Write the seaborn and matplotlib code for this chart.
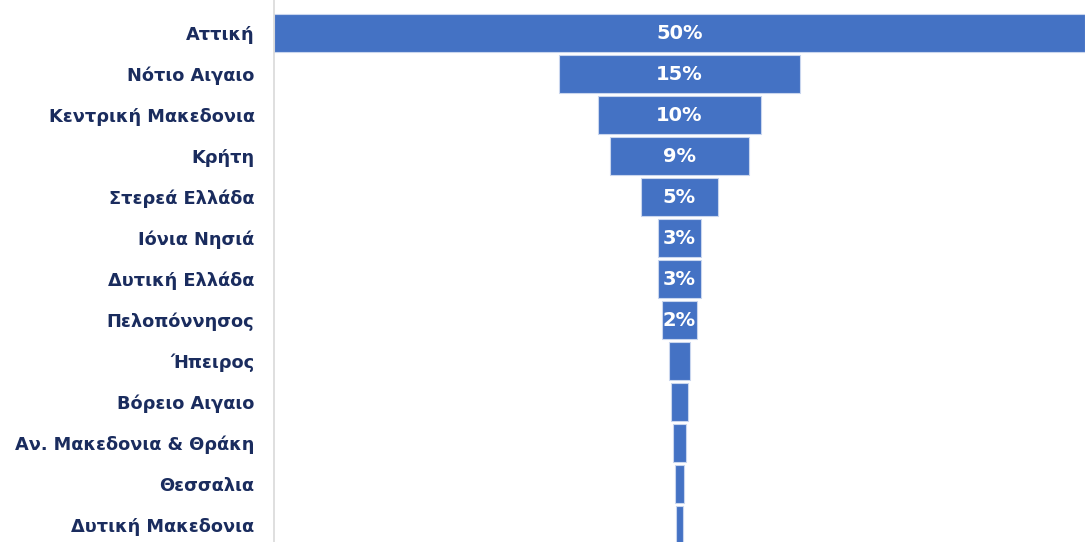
import seaborn as sns
import matplotlib.pyplot as plt
import pandas as pd

regions = ["Αττική", "Νότιο Αιγαιο", "Κεντρική Μακεδονια", "Κρήτη", "Στερεά Ελλάδα",
           "Ιόνια Νησιά", "Δυτική Ελλάδα", "Πελοπόννησος", "Ήπειρος", "Βόρειο Αιγαιο",
           "Αν. Μακεδονια & Θράκη", "Θεσσαλια", "Δυτική Μακεδονια"]
shares = [50.0, 14.8, 10.0, 8.6, 4.7, 2.7, 2.65, 2.2, 1.35, 1.05, 0.8, 0.5, 0.37]

df = pd.DataFrame({"region": regions, "share": shares})

sns.set_style("white")
plt.rcParams["font.family"] = ["DejaVu Sans"]

fig = plt.figure(figsize=(10.88, 5.42), dpi=100)
ax = fig.add_axes([274 / 1088, 0, 811 / 1088, 1])

sns.barplot(data=df, y="region", x="share", orient="h", color="#4472C4",
            saturation=1, width=0.92, edgecolor="#C9D6EE", linewidth=0.8, ax=ax)

# center each bar to get the funnel shape
for patch, v in zip(ax.patches, shares):
    patch.set_x(-v / 2)
    patch.set_width(v)

for i, v in enumerate(shares):
    if v >= 2:
        ax.text(0, i, "{:.0f}%".format(v), ha="center", va="center",
                color="white", fontsize=14, fontweight="bold")

ax.set_xlim(-25, 25)
ax.set_ylim(12.41, -0.805)
ax.set_xlabel("")
ax.set_ylabel("")
ax.set_xticks([])
ax.tick_params(axis="y", length=0, pad=14)
for lbl in ax.get_yticklabels():
    lbl.set_fontweight("bold")
    lbl.set_fontsize(12.8)
    lbl.set_color("#1A2C5E")

for s in ["top", "right", "bottom"]:
    ax.spines[s].set_visible(False)
ax.spines["left"].set_color("#D9D9D9")
ax.spines["left"].set_linewidth(1.2)

fig.savefig("out.png", dpi=100)
